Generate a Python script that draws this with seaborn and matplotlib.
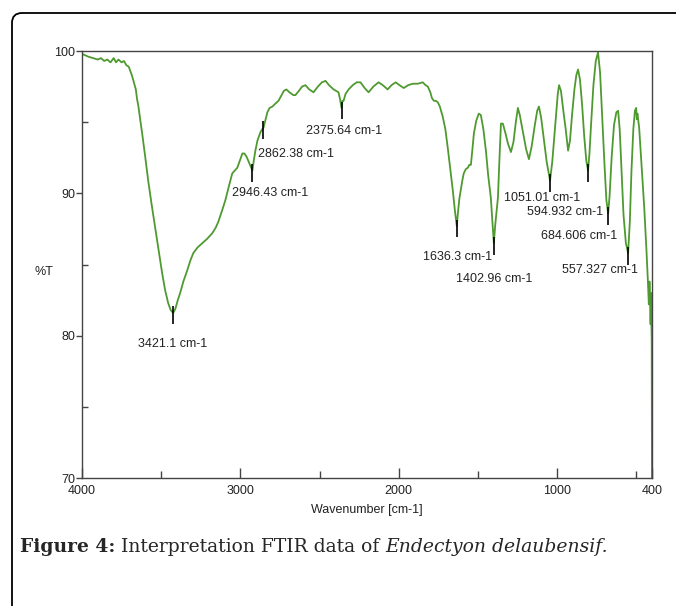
import matplotlib
matplotlib.use("Agg")
import matplotlib.pyplot as plt
from matplotlib.patches import FancyBboxPatch
from matplotlib.text import Annotation
import pandas as pd
import seaborn as sns

# ── FTIR spectrum (wavenumber cm-1, %T) ───────────────────────────
wavenumber = [
    4000, 3960, 3930, 3900, 3880, 3860, 3840, 3820, 3800, 3785, 3770, 3750,
    3735, 3720, 3705, 3695, 3685, 3675, 3668, 3660, 3652, 3645, 3630, 3620,
    3600, 3582, 3560, 3538, 3516, 3494, 3475, 3456, 3440, 3424, 3410, 3395,
    3380, 3360, 3335, 3315, 3297, 3270, 3240, 3210, 3177, 3155, 3139, 3115,
    3095, 3070, 3051, 3035, 3019, 3000, 2987, 2975, 2962, 2950, 2935, 2924,
    2915, 2905, 2892, 2873, 2862, 2854, 2845, 2829, 2815, 2797, 2779, 2759,
    2740, 2725, 2709, 2690, 2665, 2652, 2630, 2610, 2589, 2565, 2538, 2510,
    2485, 2462, 2440, 2411, 2395, 2380, 2370, 2361, 2355, 2348, 2335, 2316,
    2290, 2265, 2241, 2215, 2190, 2160, 2127, 2100, 2070, 2045, 2019, 1995,
    1968, 1940, 1911, 1880, 1848, 1830, 1816, 1800, 1790, 1778, 1765, 1753,
    1740, 1722, 1705, 1690, 1675, 1658, 1645, 1633, 1625, 1617, 1608, 1598,
    1589, 1576, 1563, 1554, 1544, 1535, 1525, 1510, 1494, 1481, 1465, 1449,
    1435, 1418, 1408, 1399, 1390, 1380, 1373, 1365, 1354, 1342, 1325, 1310,
    1291, 1275, 1260, 1247, 1235, 1220, 1209, 1195, 1177, 1160, 1140, 1125,
    1114, 1100, 1082, 1065, 1044, 1030, 1019, 1005, 995, 987, 975, 960,
    945, 930, 918, 905, 890, 878, 867, 855, 842, 828, 815, 804,
    795, 785, 770, 755, 741, 728, 715, 700, 688, 677, 668, 655,
    640, 625, 614, 604, 592, 580, 565, 551, 540, 530, 518, 508,
    500, 496, 492, 481, 465, 449, 435, 425, 420, 416, 412, 409,
    406, 404, 402, 401, 400,
]
transmittance = [
    99.8, 99.6, 99.5, 99.4, 99.5, 99.3, 99.4, 99.2, 99.5, 99.2, 99.4, 99.2,
    99.3, 99.0, 98.9, 98.6, 98.3, 97.9, 97.6, 97.3, 96.6, 96.2, 95.0, 94.2,
    92.5, 90.9, 89.2, 87.6, 86.0, 84.4, 83.2, 82.3, 81.8, 81.6, 81.9, 82.5,
    83.0, 83.8, 84.6, 85.3, 85.8, 86.2, 86.5, 86.8, 87.2, 87.6, 88.0, 88.8,
    89.5, 90.6, 91.4, 91.6, 91.8, 92.4, 92.8, 92.8, 92.6, 92.3, 91.9, 91.6,
    92.3, 93.0, 93.7, 94.3, 94.5, 94.6, 95.0, 95.7, 96.0, 96.1, 96.3, 96.5,
    96.9, 97.2, 97.3, 97.1, 96.9, 96.9, 97.2, 97.5, 97.6, 97.3, 97.1, 97.5,
    97.8, 97.9, 97.6, 97.3, 97.2, 97.1, 96.6, 96.0, 96.5, 96.5, 97.0, 97.3,
    97.6, 97.8, 97.8, 97.4, 97.1, 97.5, 97.8, 97.6, 97.3, 97.6, 97.8, 97.6,
    97.4, 97.6, 97.7, 97.7, 97.8, 97.6, 97.5, 97.1, 96.7, 96.5, 96.5, 96.4,
    96.1, 95.4, 94.5, 93.2, 91.8, 90.2, 88.8, 87.7, 88.7, 89.6, 90.2, 90.9,
    91.4, 91.7, 91.8, 92.0, 92.0, 93.0, 94.2, 95.1, 95.6, 95.5, 94.5, 93.0,
    91.3, 89.7, 88.0, 86.5, 87.8, 88.9, 89.7, 92.0, 94.9, 94.9, 94.2, 93.5,
    92.9, 93.6, 95.0, 96.0, 95.5, 94.6, 93.9, 93.1, 92.4, 93.3, 94.8, 95.8,
    96.1, 95.3, 93.7, 92.2, 90.9, 92.2, 93.7, 95.6, 97.0, 97.6, 97.2, 95.8,
    94.5, 93.0, 93.7, 95.5, 97.3, 98.3, 98.7, 98.0, 96.3, 94.0, 92.3, 91.6,
    92.8, 94.8, 97.6, 99.3, 99.9, 98.5, 95.5, 92.0, 89.5, 88.6, 89.8, 92.5,
    94.8, 95.7, 95.8, 94.5, 91.5, 88.5, 86.5, 85.8, 88.0, 91.5, 94.5, 95.8,
    96.0, 95.2, 95.6, 94.6, 91.8, 89.0, 86.0, 83.6, 82.2, 83.8, 82.5, 80.8,
    83.0, 81.0, 79.8, 75.0, 69.5,
]

# peak markers (position on the curve) and their printed labels
peak_wn = [3424, 2924, 2854, 2361, 1633, 1399, 1044, 804, 677, 551]
peak_T = [81.6, 91.6, 94.6, 96.0, 87.7, 86.5, 90.9, 91.6, 88.6, 85.8]
peak_labels = [
    "3421.1 cm-1", "2946.43 cm-1", "2862.38 cm-1", "2375.64 cm-1",
    "1636.3 cm-1", "1402.96 cm-1", "1051.01 cm-1", "594.932 cm-1",
    "684.606 cm-1", "557.327 cm-1",
]
label_wn = [3430, 2810, 2646, 2345, 1627, 1396, 1095, 949, 858, 728]
label_T = [79.4, 90.0, 92.75, 94.4, 85.5, 84.0, 89.7, 88.7, 87.0, 84.6]

x_ticks = [4000, 3000, 2000, 1000, 400]
x_minor = [3500, 2500, 1500, 500]
y_ticks = [70, 80, 90, 100]
y_minor = [75, 85, 95]

GREEN = "#4f9a30"
SPINE = "#444444"

sns.set_style("ticks")
plt.rcParams['font.family'] = ['Liberation Sans', 'DejaVu Sans']

df = pd.DataFrame({"wn": wavenumber, "T": transmittance})

fig = plt.figure(figsize=(6.76, 6.06), dpi=100)
ax = fig.add_axes([82 / 676, 1 - 478 / 606, 570 / 676, 427 / 606])

sns.lineplot(data=df, x="wn", y="T", ax=ax, color=GREEN, linewidth=1.3,
             sort=False, estimator=None)

# ── peak markers and labels ───────────────────────────────────────
ax.vlines(peak_wn, [t - 0.8 for t in peak_T], [t + 0.45 for t in peak_T],
          color="black", linewidth=1.2, zorder=3)
for txt, lx, ly in zip(peak_labels, label_wn, label_T):
    ax.text(lx, ly, txt, ha="center", va="center", fontsize=9, color="#222222")

# ── axes styling ──────────────────────────────────────────────────
ax.set_xlim(4000, 400)
ax.set_ylim(70, 100)
ax.set_xticks(x_ticks)
ax.set_xticklabels([str(v) for v in x_ticks])
ax.set_xticks(x_minor, minor=True)
ax.set_yticks(y_ticks)
ax.set_yticklabels([str(v) for v in y_ticks])
ax.set_yticks(y_minor, minor=True)

ax.tick_params(axis="x", which="major", direction="in", length=7, width=1,
               pad=5, labelsize=9, colors=SPINE, labelcolor="#222222")
ax.tick_params(axis="x", which="minor", direction="in", length=5, width=1, colors=SPINE)
ax.tick_params(axis="y", which="major", direction="out", length=4, width=1,
               pad=1, labelsize=9, colors=SPINE, labelcolor="#222222")
ax.tick_params(axis="y", which="minor", direction="in", length=4, width=1, colors=SPINE)

for sp in ax.spines.values():
    sp.set_visible(True)
    sp.set_color(SPINE)
    sp.set_linewidth(1.0)

ax.set_xlabel("Wavenumber [cm-1]", fontsize=9, color="#222222")
ax.xaxis.set_label_coords(0.5, -0.075)
ax.xaxis.label.set_va("center")
ax.set_ylabel("%T", fontsize=9, rotation=0, color="#222222")
ax.yaxis.set_label_coords(-0.067, 0.482)
ax.yaxis.label.set_va("center")
ax.yaxis.label.set_ha("center")

# ── page frame and caption ────────────────────────────────────────
frame = FancyBboxPatch((0.12, -1.0), 8.0, 6.06 - 0.13 + 1.0,
                       boxstyle="round,pad=0,rounding_size=0.1",
                       transform=fig.dpi_scale_trans, fill=False,
                       edgecolor="black", linewidth=1.3)
fig.add_artist(frame)

serif = ['DejaVu Serif', 'Liberation Serif']
cap_size = 13.5
t1 = fig.text(20 / 676, 1 - 556 / 606, "Figure 4:", fontsize=cap_size,
              fontweight="bold", family=serif, va="bottom")
a2 = fig.add_artist(Annotation(
    " Interpretation FTIR data of ", xy=(1, 0), xycoords=t1, va="bottom",
    fontsize=cap_size, family=serif))
a3 = fig.add_artist(Annotation(
    "Endectyon delaubensif.", xy=(1, 0), xycoords=a2, va="bottom",
    fontsize=cap_size, style="italic", family=serif))

fig.savefig("out.png", dpi=100)
plt.close(fig)
